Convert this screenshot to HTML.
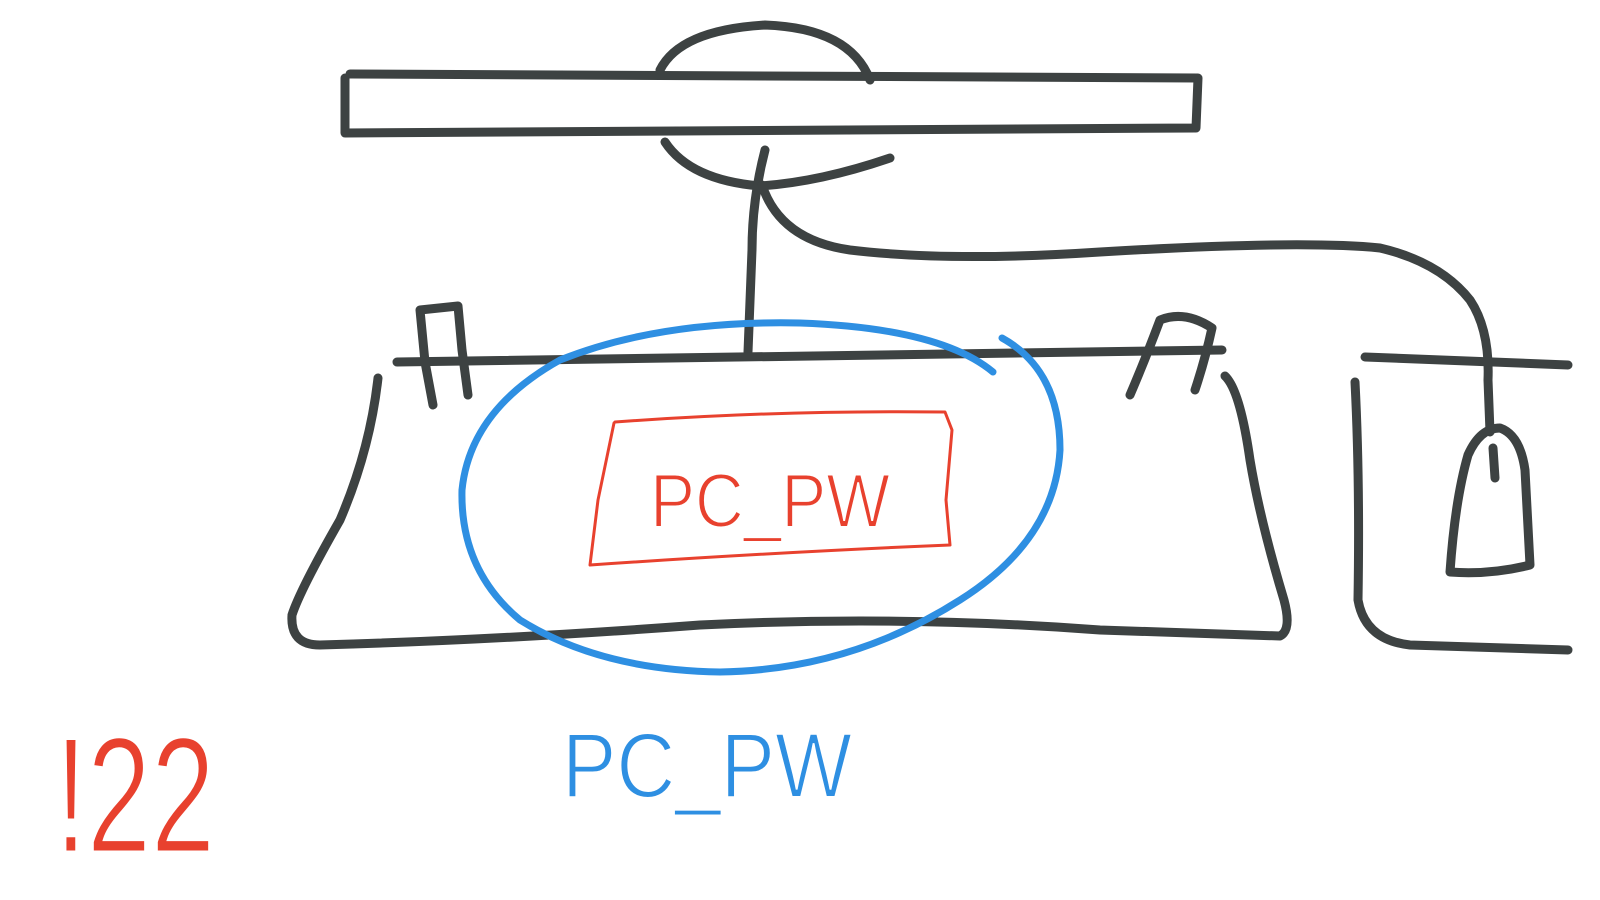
<!DOCTYPE html>
<html>
<head>
<meta charset="utf-8">
<style>
html,body{margin:0;padding:0;background:#fff;}
svg{display:block;}
.g{fill:none;stroke:#3d4242;stroke-width:9;stroke-linecap:round;stroke-linejoin:round;}
.b{fill:none;stroke:#2e8fe2;stroke-width:7;stroke-linecap:round;}
.r{fill:none;stroke:#e8412e;stroke-width:3;stroke-linejoin:round;}
</style>
</head>
<body>
<svg width="1600" height="900" viewBox="0 0 1600 900">
  <g>
    <path class="g" d="M350 74 L1198 78 L1196 128 L345 133 L345 78" />
    <path class="g" d="M660 70 Q680 30 765 25 Q850 28 870 80" />
    <path class="g" d="M665 142 Q690 180 760 186 Q820 182 890 158" />
    <path class="g" d="M765 150 Q752 200 752 250 L748 352" />
  </g>
  <path class="g" d="M762 185 Q780 240 850 250 Q950 262 1100 252 Q1300 240 1380 248 Q1440 262 1470 300 Q1490 330 1488 380 L1490 432" />
  <g>
    <path class="g" d="M397 362 L1222 350" />
    <path class="g" d="M378 378 Q370 450 340 520 Q300 590 292 615 Q290 645 320 645 Q500 640 700 625 Q900 615 1100 630 L1280 636 Q1292 630 1284 600 Q1260 520 1250 460 Q1240 390 1225 376" />
    <path class="g" d="M433 405 L425 362 L420 310 L458 306 L462 350 L468 395" />
    <path class="g" d="M1130 395 Q1145 360 1160 320 Q1185 310 1212 328 Q1205 360 1195 390" />
  </g>
  <g>
    <path class="g" d="M1365 357 L1568 365" />
    <path class="g" d="M1355 382 Q1360 480 1358 600 Q1365 640 1410 645 L1568 650" />
  </g>
  <g>
    <path class="g" d="M1450 572 Q1455 500 1468 455 Q1480 428 1500 428 Q1520 435 1525 470 L1530 565 Q1490 575 1450 572 Z" />
    <path class="g" d="M1493 448 L1495 478" />
  </g>
  <path class="b" d="M1002 338 Q1060 370 1060 450 Q1055 540 960 600 Q850 670 720 672 Q600 670 520 620 Q460 570 462 490 Q470 410 560 360 Q660 320 800 323 Q940 328 993 372" />
  <path class="r" d="M614 423 L615 422 Q780 410 945 412 L952 430 L946 500 L950 545 Q780 552 590 565 L598 500 Z" />
  <text x="650" y="527" textLength="240" lengthAdjust="spacingAndGlyphs" font-family="Liberation Sans, sans-serif" font-size="76" fill="#e8412e" stroke="#fff" stroke-width="2" paint-order="normal">PC_PW</text>
  <text x="562" y="797" textLength="290" lengthAdjust="spacingAndGlyphs" font-family="Liberation Sans, sans-serif" font-size="92" fill="#2e8fe2" stroke="#fff" stroke-width="2">PC_PW</text>
  <text x="55" y="852" textLength="160" lengthAdjust="spacingAndGlyphs" font-family="Liberation Sans, sans-serif" font-size="165" fill="#e8412e" stroke="#fff" stroke-width="3">!22</text>
</svg>
</body>
</html>
